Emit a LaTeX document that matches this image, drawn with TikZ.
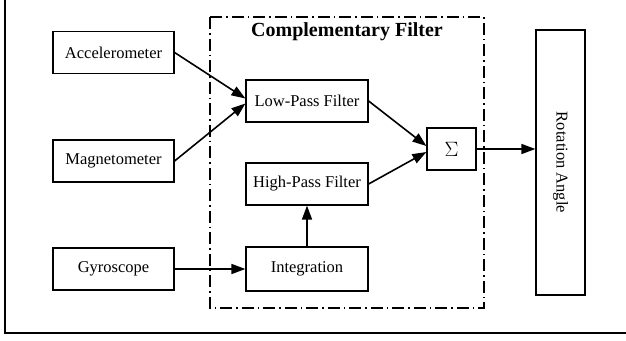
\documentclass[tikz,border=0pt]{standalone}
\usepackage{fontspec}
\setmainfont{Liberation Serif}
\usetikzlibrary{arrows.meta}

\tikzset{
  blk/.style={draw, line width=1.2pt, minimum width=121pt, minimum height=42pt, inner sep=0pt, font=\fontsize{16.5}{19}\selectfont},
  arr/.style={-{Triangle[length=14pt,width=10pt]}, line width=1.6pt}
}

\begin{document}
\begin{tikzpicture}[x=1pt, y=-1pt]
\useasboundingbox (0,0) rectangle (626,340);

\def\xl{113.5};
\def\xm{307};
\def\xs{451.5};
\def\xr{560.5};

\def\ya{52.5};
\def\yb{161};
\def\yc{269};
\def\ylp{101};
\def\yhp{184};
\def\ysum{149};

\draw[line width=1.8pt] (5,0) -- (5,333) -- (626,333);

\draw[line width=1.2pt, dash pattern=on 12pt off 4pt on 1.5pt off 4pt] (210,17) rectangle (484,308);
\node[font=\fontsize{20}{24}\selectfont\bfseries] (title) at (347,32) {Complementary Filter};

\node[blk] (acc) at (\xl, \ya) {Accelerometer};
\node[blk] (mag) at (\xl, \yb) {Magnetometer};
\node[blk] (gyro) at (\xl, \yc) {Gyroscope};

\node[blk, minimum width=122pt] (lp) at (\xm, \ylp) {Low-Pass Filter};
\node[blk, minimum width=122pt] (hp) at (\xm, \yhp) {High-Pass Filter};
\node[blk, minimum width=122pt, minimum height=44pt] (int) at (\xm, \yc) {Integration};

\node[blk, minimum width=49pt, font=\fontsize{20}{24}\selectfont] (sum) at (\xs, \ysum) {$\Sigma$};
\node[blk, minimum width=49pt, minimum height=265pt] (rot) at (\xr, 162.5) {\rotatebox{-90}{Rotation Angle}};

\draw[arr] (acc.east) -- ([yshift=2.5pt]lp.west);
\draw[arr] (mag.east) -- ([yshift=-2.5pt]lp.west);
\draw[arr] (gyro.east) -- (int.west);
\draw[arr] (int.north) -- (hp.south);
\draw[arr] (lp.east) -- ([yshift=3pt]sum.west);
\draw[arr] (hp.east) -- ([yshift=-3pt]sum.west);
\draw[arr] (sum.east) -- (sum.east -| rot.west);

\end{tikzpicture}
\end{document}
